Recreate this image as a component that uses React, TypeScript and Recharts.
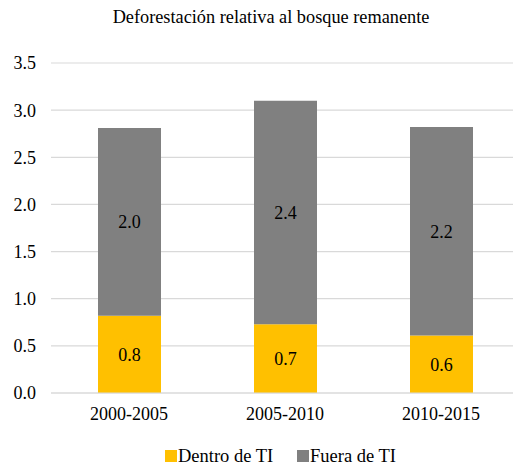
import { BarChart, Bar, XAxis, YAxis, CartesianGrid, Legend, LabelList } from "recharts";

const periods = ["2000-2005", "2005-2010", "2010-2015"];
const dentro = [0.82, 0.73, 0.61];
const fuera = [1.99, 2.37, 2.21];
const yTicks = [0, 0.5, 1, 1.5, 2, 2.5, 3, 3.5];

const data = periods.map((p, i) => ({ period: p, dentro: dentro[i], fuera: fuera[i] }));

const FONT = '"Liberation Serif", "Times New Roman", serif';
const fmt = (v: any) => Number(v).toFixed(1);

const legendItems = [
  { label: "Dentro de TI", color: "#FFC000", left: 165 },
  { label: "Fuera de TI", color: "#808080", left: 297 },
];

function LegendContent() {
  return (
    <div
      style={{
        position: "relative",
        height: 33,
        fontFamily: FONT,
        fontSize: 18.5,
        lineHeight: "20px",
        color: "#000",
        whiteSpace: "nowrap",
        textAlign: "left",
      }}
    >
      {legendItems.map((it) => (
        <span key={it.label} style={{ position: "absolute", left: it.left, top: 13 }}>
          <span
            style={{ display: "inline-block", width: 12, height: 12, background: it.color, marginRight: 1 }}
          />
          {it.label}
        </span>
      ))}
    </div>
  );
}

export default function App() {
  return (
    <div
      style={{
        position: "fixed",
        left: 0,
        top: 0,
        width: 513,
        height: 466,
        overflow: "hidden",
        background: "#fff",
      }}
    >
      <div
        style={{
          position: "absolute",
          left: 0,
          width: 542,
          top: 7,
          textAlign: "center",
          fontFamily: FONT,
          fontSize: 18.3,
          lineHeight: "20px",
          color: "#000",
        }}
      >
        Deforestación relativa al bosque remanente
      </div>
      <BarChart
        width={519}
        height={466}
        data={data}
        margin={{ top: 63, right: 0, bottom: 0, left: 0 }}
        style={{ fontFamily: FONT }}
      >
        <CartesianGrid vertical={false} stroke="#d9d9d9" strokeWidth={1.2} />
        <XAxis
          dataKey="period"
          height={40}
          tickLine={false}
          axisLine={{ stroke: "#d9d9d9", strokeWidth: 1.2 }}
          tickMargin={8}
          tick={{ fill: "#000", fontSize: 18, fontFamily: FONT }}
        />
        <YAxis
          width={51}
          domain={[0, 3.5]}
          ticks={yTicks}
          tickFormatter={fmt}
          tickLine={false}
          axisLine={false}
          tickMargin={9}
          tick={{ fill: "#000", fontSize: 18, fontFamily: FONT }}
        />
        <Legend verticalAlign="bottom" content={<LegendContent />} />
        <Bar dataKey="dentro" stackId="a" fill="#FFC000" barSize={63} isAnimationActive={false}>
          <LabelList dataKey="dentro" position="center" formatter={fmt} fill="#000" fontSize={18} fontFamily={FONT} />
        </Bar>
        <Bar dataKey="fuera" stackId="a" fill="#808080" barSize={63} isAnimationActive={false}>
          <LabelList dataKey="fuera" position="center" formatter={fmt} fill="#000" fontSize={18} fontFamily={FONT} />
        </Bar>
      </BarChart>
    </div>
  );
}
